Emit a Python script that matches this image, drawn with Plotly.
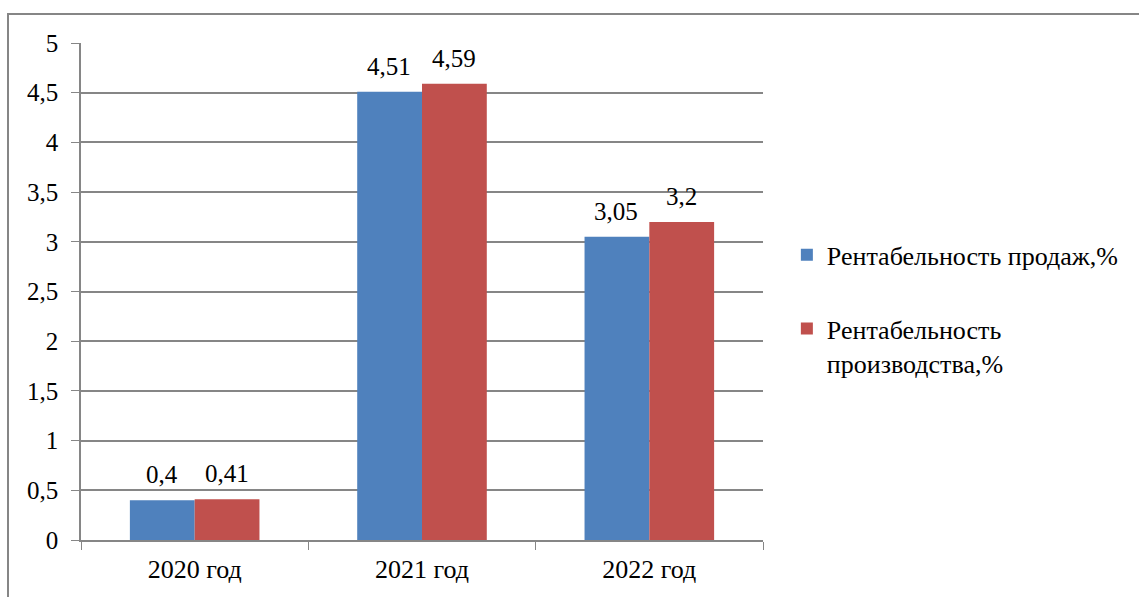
import plotly.graph_objects as go

categories = ["2020 год", "2021 год", "2022 год"]
sales = [0.4, 4.51, 3.05]
production = [0.41, 4.59, 3.2]
sales_labels = ["0,4", "4,51", "3,05"]
production_labels = ["0,41", "4,59", "3,2"]
tick_vals = [0, 0.5, 1, 1.5, 2, 2.5, 3, 3.5, 4, 4.5, 5]
tick_text = ["0", "0,5", "1", "1,5", "2", "2,5", "3", "3,5", "4", "4,5", "5"]

FONT = "Liberation Serif"
GRID = "#868686"
FS = 25

fig = go.Figure()
fig.add_trace(go.Bar(
    x=categories, y=sales, name="Рентабельность продаж,%",
    marker=dict(color="#4F81BD", line=dict(width=0)),
    legendgroup="a",
))
fig.add_trace(go.Bar(
    x=categories, y=production, name="Рентабельность<br>производства,%",
    marker=dict(color="#C0504D", line=dict(width=0)),
    legendgroup="b",
))

annotations = []
for c, v, t in zip(categories, sales, sales_labels):
    annotations.append(dict(x=c, y=v, text=t, xref="x", yref="y", showarrow=False,
                            xshift=-33, yshift=10, yanchor="bottom",
                            font=dict(family=FONT, size=FS, color="black")))
for c, v, t in zip(categories, production, production_labels):
    annotations.append(dict(x=c, y=v, text=t, xref="x", yref="y", showarrow=False,
                            xshift=32, yshift=10, yanchor="bottom",
                            font=dict(family=FONT, size=FS, color="black")))

fig.update_layout(
    width=1139, height=597,
    margin=dict(l=81, r=376, t=43, b=57),
    paper_bgcolor="white", plot_bgcolor="white",
    barmode="group", bargap=0.43, bargroupgap=0,
    font=dict(family=FONT, size=FS, color="black"),
    showlegend=True,
    annotations=annotations,
    legend=dict(
        x=1.035, y=0.465, xanchor="left", yanchor="middle",
        font=dict(family=FONT, size=26, color="black"),
        tracegroupgap=37, itemwidth=30, valign="top",
        bgcolor="rgba(0,0,0,0)",
    ),
    xaxis=dict(
        showline=True, linecolor=GRID, linewidth=1.5,
        ticks="outside", tickson="boundaries", ticklen=8, tickcolor=GRID,
        ticklabelstandoff=5,
        tickfont=dict(family=FONT, size=26, color="black"),
        showgrid=False, zeroline=False,
    ),
    yaxis=dict(
        range=[0, 5], tickvals=tick_vals, ticktext=tick_text,
        showline=True, linecolor=GRID, linewidth=1.5,
        ticks="outside", ticklen=8, tickcolor=GRID,
        ticklabelstandoff=8,
        showgrid=True, gridcolor=GRID, gridwidth=1.5,
        zeroline=False,
        tickfont=dict(family=FONT, size=FS, color="black"),
    ),
    shapes=[dict(
        type="rect", xref="paper", yref="paper",
        x0=-73 / 682, x1=1.7, y0=-0.2, y1=1 + 29 / 497,
        line=dict(color=GRID, width=2), layer="below",
    )],
)

fig.write_html("out.html")
